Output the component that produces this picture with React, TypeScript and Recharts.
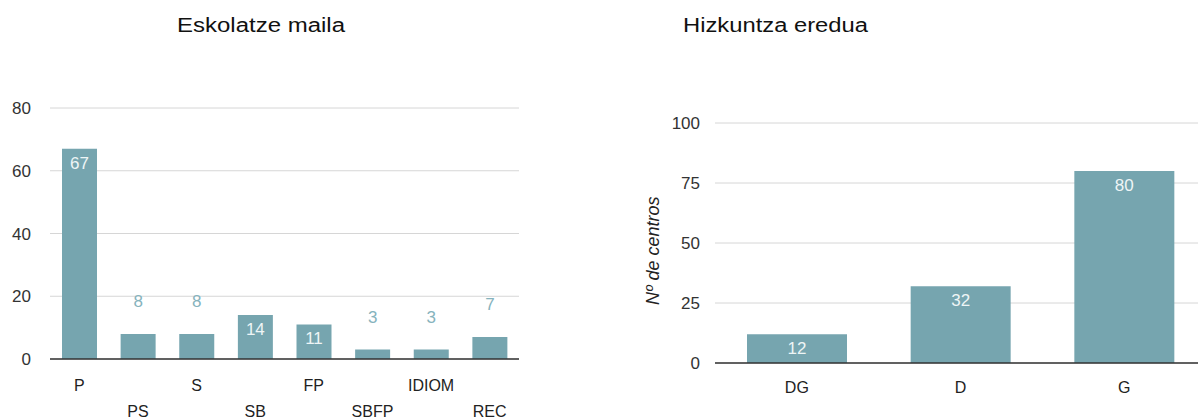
import { BarChart, Bar, XAxis, YAxis, CartesianGrid, LabelList, ReferenceLine } from 'recharts';

const levelCategories = ['P', 'PS', 'S', 'SB', 'FP', 'SBFP', 'IDIOM', 'REC'];
const levelValues = [67, 8, 8, 14, 11, 3, 3, 7];
const levelTicks = [0, 20, 40, 60, 80];

const modelCategories = ['DG', 'D', 'G'];
const modelValues = [12, 32, 80];
const modelTicks = [0, 25, 50, 75, 100];

const BAR_COLOR = '#76a5af';
const TEXT_FONT = '"Liberation Sans Narrow", "Arial Narrow", "Liberation Sans", Arial, sans-serif';

const levelData = levelCategories.map((name, i) => ({ name, value: levelValues[i] }));
const modelData = modelCategories.map((name, i) => ({ name, value: modelValues[i] }));

function ValueLabel(props: any) {
  const { x, y, width, value } = props;
  const cx = x + width / 2;
  if (value >= 10) {
    return (
      <text x={cx} y={y + 20} textAnchor="middle" fill="#eef5f6" fontSize={17} fontFamily={TEXT_FONT}>
        {value}
      </text>
    );
  }
  return (
    <text x={cx} y={y - 27} textAnchor="middle" fill="#86b3bd" fontSize={17} fontFamily={TEXT_FONT}>
      {value}
    </text>
  );
}

function StaggeredTick(props: any) {
  const { x, y, payload, index } = props;
  const dy = index % 2 === 0 ? 24 : 50;
  return (
    <text x={x} y={y + dy} textAnchor="middle" fill="#222" fontSize={16} fontFamily={TEXT_FONT}>
      {payload.value}
    </text>
  );
}

function Title({ text, cx, width }: { text: string; cx: number; width: number }) {
  return (
    <svg width={width + 20} height={40} style={{ position: 'absolute', left: cx - width / 2 - 10, top: 0 }}>
      <text
        x={10}
        y={32}
        fontSize={20}
        fill="#111"
        fontFamily='"Liberation Sans", Arial, sans-serif'
        textLength={width}
        lengthAdjust="spacingAndGlyphs"
      >
        {text}
      </text>
    </svg>
  );
}

export default function App() {
  const tickStyle = { fill: '#333', fontSize: 17, fontFamily: TEXT_FONT };
  return (
    <div style={{ position: 'absolute', left: 0, top: 0, width: 1198, height: 419, overflow: 'hidden', background: '#fff' }}>
      <Title text="Eskolatze maila" cx={261} width={168} />
      <Title text="Hizkuntza eredua" cx={775} width={185} />

      <div style={{ position: 'absolute', left: 0, top: 0 }}>
        <BarChart
          width={540}
          height={419}
          data={levelData}
          margin={{ top: 108, right: 21, bottom: 10, left: 10 }}
        >
          <CartesianGrid vertical={false} stroke="#d6d6d6" />
          <XAxis
            dataKey="name"
            interval={0}
            height={50}
            axisLine={false}
            tickLine={false}
            tick={<StaggeredTick />}
          />
          <YAxis
            width={40}
            domain={[0, 80]}
            ticks={levelTicks}
            axisLine={false}
            tickLine={false}
            tickSize={0}
            tickMargin={19}
            tick={tickStyle}
          />
          <Bar dataKey="value" fill={BAR_COLOR} barSize={35} isAnimationActive={false}>
            <LabelList dataKey="value" content={<ValueLabel />} />
          </Bar>
          <ReferenceLine y={0} stroke="#333" strokeWidth={1.5} />
        </BarChart>
      </div>

      <div style={{ position: 'absolute', left: 620, top: 0 }}>
        <BarChart
          width={600}
          height={419}
          data={modelData}
          margin={{ top: 123, right: 14, bottom: 10, left: 50 }}
        >
          <CartesianGrid vertical={false} stroke="#d6d6d6" />
          <XAxis
            dataKey="name"
            interval={0}
            height={46}
            axisLine={false}
            tickLine={false}
            tickSize={0}
            tickMargin={19}
            tick={{ ...tickStyle, fill: '#222', fontSize: 16 }}
          />
          <YAxis
            width={45}
            domain={[0, 100]}
            ticks={modelTicks}
            axisLine={false}
            tickLine={false}
            tickSize={0}
            tickMargin={15}
            tick={tickStyle}
            label={{
              value: 'Nº de centros',
              angle: -90,
              position: 'insideLeft',
              dx: -22,
              dy: 62,
              fill: '#222',
              fontSize: 18,
              fontStyle: 'italic',
              fontFamily: '"Liberation Sans", Arial, sans-serif',
            }}
          />
          <Bar dataKey="value" fill={BAR_COLOR} barSize={100} isAnimationActive={false}>
            <LabelList dataKey="value" content={<ValueLabel />} />
          </Bar>
          <ReferenceLine y={0} stroke="#333" strokeWidth={1.5} />
        </BarChart>
      </div>
    </div>
  );
}
